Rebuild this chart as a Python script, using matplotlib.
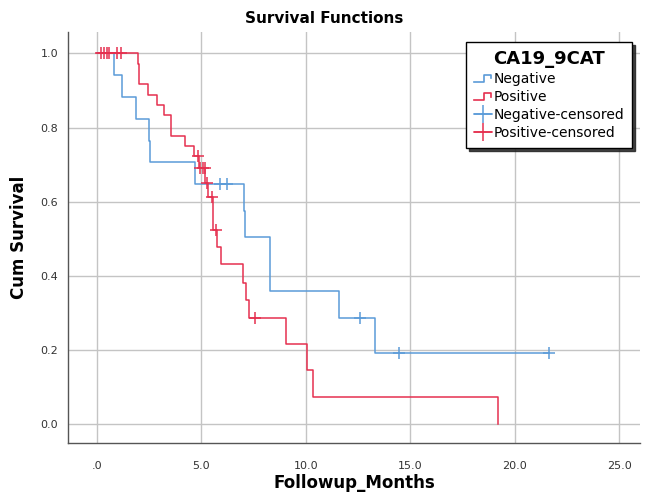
import matplotlib
matplotlib.use('Agg')
from matplotlib import pyplot
from matplotlib.legend_handler import HandlerBase
from matplotlib.lines import Line2D

# Kaplan-Meier steps (time in months, cum survival after the step)
neg_times = [0.0, 0.81, 1.20, 1.87, 2.50, 2.55, 4.70, 7.02, 7.07, 8.30, 11.58, 13.30, 21.64]
neg_surv = [1.0, 0.941, 0.882, 0.824, 0.765, 0.706, 0.647, 0.576, 0.504, 0.360, 0.288, 0.192, 0.192]
neg_cens_t = [5.90, 6.25, 12.58, 14.45, 21.64]
neg_cens_s = [0.647, 0.647, 0.288, 0.192, 0.192]

pos_times = [0.0, 1.98, 2.04, 2.47, 2.87, 3.24, 3.55, 4.23, 4.63, 4.90, 5.19, 5.30,
             5.54, 5.75, 5.94, 7.00, 7.15, 7.26, 9.07, 10.06, 10.33, 19.20]
pos_surv = [1.0, 0.972, 0.917, 0.889, 0.861, 0.833, 0.778, 0.750, 0.722, 0.690, 0.650, 0.613,
            0.524, 0.479, 0.431, 0.380, 0.335, 0.287, 0.218, 0.146, 0.074, 0.0]
pos_cens_t = [0.22, 0.36, 0.48, 0.60, 0.95, 1.15, 4.85, 4.95, 5.07, 5.19, 5.27, 5.50, 5.70, 7.58]
pos_cens_s = [1.0, 1.0, 1.0, 1.0, 1.0, 1.0, 0.722, 0.690, 0.690, 0.690, 0.650, 0.613, 0.524, 0.287]

x_ticks = [0, 5, 10, 15, 20, 25]
x_labels = ['.0', '5.0', '10.0', '15.0', '20.0', '25.0']
y_ticks = [0.0, 0.2, 0.4, 0.6, 0.8, 1.0]
y_labels = ['0.0', '0.2', '0.4', '0.6', '0.8', '1.0']

BLUE = '#5b9bd8'
RED = '#e5304f'


class StepHandler(HandlerBase):
    def create_artists(self, legend, orig_handle, xdescent, ydescent, width, height, fontsize, trans):
        w, h = width, height
        x0, y0 = -xdescent, -ydescent
        xs = [x0, x0 + 0.55 * w, x0 + 0.55 * w, x0 + 0.95 * w, x0 + 0.95 * w]
        ys = [y0 + 0.1 * h, y0 + 0.1 * h, y0 + 0.85 * h, y0 + 0.85 * h, y0 + 0.45 * h]
        line = Line2D(xs, ys, color=orig_handle.get_color(), lw=1.2)
        line.set_transform(trans)
        return [line]


fig = pyplot.figure(figsize=(6.48, 4.95), dpi=100)
ax = fig.add_axes([0.1045, 0.1044, 0.8835, 0.8306])

ax.step(neg_times, neg_surv, where='post', color=BLUE, lw=1.1, zorder=3)
ax.step(pos_times, pos_surv, where='post', color=RED, lw=1.1, zorder=4)
ax.plot(neg_cens_t, neg_cens_s, ls='none', marker='+', ms=8, mew=1.1, color=BLUE, zorder=3)
ax.plot(pos_cens_t, pos_cens_s, ls='none', marker='+', ms=8, mew=1.1, color=RED, zorder=4)

ax.set_xlim(-1.39, 26.0)
ax.set_ylim(-0.051, 1.057)
ax.set_xticks(x_ticks)
ax.set_xticklabels(x_labels)
ax.set_yticks(y_ticks)
ax.set_yticklabels(y_labels)
ax.tick_params(length=0, labelsize=8, colors='#333333')
ax.tick_params(axis='x', pad=13)
ax.tick_params(axis='y', pad=7)
ax.grid(True, color='#c4c4c4', lw=1.0)
ax.set_axisbelow(True)
for side in ['top', 'right']:
    ax.spines[side].set_visible(False)
for side in ['left', 'bottom']:
    ax.spines[side].set_color('#555555')
    ax.spines[side].set_linewidth(1.0)

ax.set_xlabel('Followup_Months', fontsize=12, fontweight='bold', labelpad=2)
ax.set_ylabel('Cum Survival', fontsize=12, fontweight='bold', labelpad=9)
fig.text(0.5, 0.962, 'Survival Functions', ha='center', va='center', fontsize=11, fontweight='bold')

h_neg = Line2D([], [], color=BLUE)
h_pos = Line2D([], [], color=RED)
h_neg_c = Line2D([], [], color=BLUE, marker='+', ms=13, mew=1.1, lw=1.1)
h_pos_c = Line2D([], [], color=RED, marker='+', ms=13, mew=1.1, lw=1.1)
leg = ax.legend([h_neg, h_pos, h_neg_c, h_pos_c],
                ['Negative', 'Positive', 'Negative-censored', 'Positive-censored'],
                handler_map={h_neg: StepHandler(), h_pos: StepHandler()},
                title='CA19_9CAT', loc='upper right', bbox_to_anchor=(0.986, 0.976),
                fontsize=10, frameon=True, shadow={'color': '#222222', 'alpha': 0.85},
                fancybox=False, framealpha=1, edgecolor='black', handlelength=1.3,
                handletextpad=0.15, labelspacing=0.3, borderpad=0.55, borderaxespad=0)
leg.get_title().set_fontsize(13)
leg.get_title().set_fontweight('bold')
leg.get_frame().set_linewidth(1.0)

fig.savefig('out.png', dpi=100)
pyplot.close()
